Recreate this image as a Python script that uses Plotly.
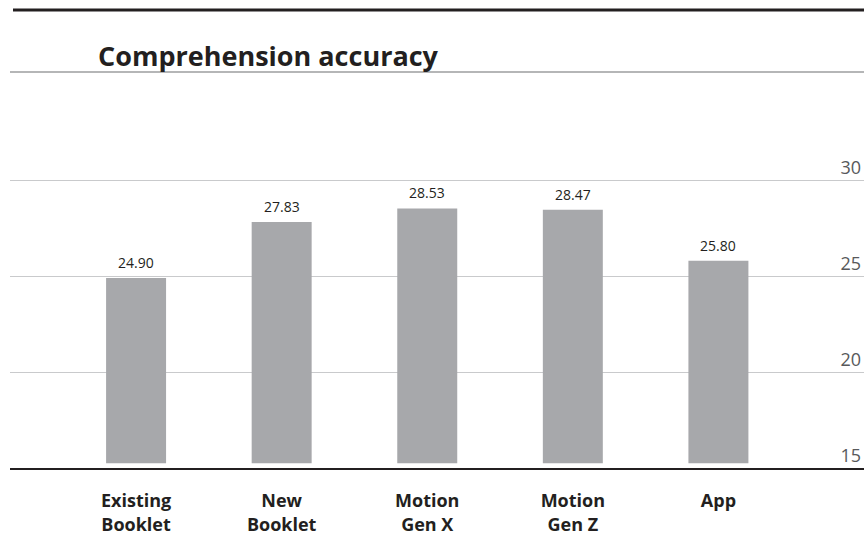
import plotly.graph_objects as go

categories = ["Existing<br>Booklet", "New<br>Booklet", "Motion<br>Gen X", "Motion<br>Gen Z", "App"]
values = [24.90, 27.83, 28.53, 28.47, 25.80]
value_labels = ["24.90", "27.83", "28.53", "28.47", "25.80"]
y_tickvals = [15, 20, 25, 30]
y_ticktext = ["15", "20", "25", "30"]
title_text = "Comprehension accuracy"

W, H = 864, 551
ML, MR, MT, MB = 10, 0, 100, 83
plot_h = H - MT - MB

def py(p):
    # pixel y -> paper y
    return (H - MB - p) / plot_h

FONT = "Open Sans"
DARK = "#231f20"

fig = go.Figure()
fig.add_trace(go.Bar(
    x=categories, y=[v - 15.25 for v in values], base=15.25,
    width=0.412, marker=dict(color="#a7a8ab", line=dict(width=0)),
    hoverinfo="skip", showlegend=False,
))

for c, v, t in zip(categories, values, value_labels):
    fig.add_annotation(x=c, y=v, text=t, showarrow=False, yanchor="bottom",
                       yshift=4, font=dict(family=FONT, size=14, color=DARK))

fig.add_annotation(xref="paper", yref="paper", x=(96 - ML) / (W - ML - MR), y=py(55),
                   xanchor="left", yanchor="middle", showarrow=False,
                   text="<b>" + title_text + "</b>",
                   font=dict(family=FONT, size=27, color=DARK))

fig.add_shape(type="line", xref="paper", yref="paper",
              x0=(13 - ML) / (W - ML - MR), x1=1, y0=py(10), y1=py(10),
              line=dict(color=DARK, width=3))
fig.add_shape(type="line", xref="paper", yref="paper",
              x0=0, x1=1, y0=py(72), y1=py(72),
              line=dict(color="#6d6e71", width=1.2))

fig.update_layout(
    width=W, height=H,
    margin=dict(l=ML, r=MR, t=MT, b=MB),
    paper_bgcolor="white", plot_bgcolor="white",
    bargap=0.6,
    xaxis=dict(
        type="category", range=[-0.866, 5.0],
        showgrid=False, showline=True, linecolor=DARK, linewidth=1.5,
        ticks="", ticklabelstandoff=16,
        tickfont=dict(family=FONT, size=18, color=DARK, weight="bold"),
        fixedrange=True,
    ),
    yaxis=dict(
        range=[15, 15 + plot_h / 19.18], side="right",
        tickvals=y_tickvals, ticktext=y_ticktext,
        ticklabelposition="inside top",
        showgrid=True, gridcolor="#c9cacc", gridwidth=1,
        zeroline=False, showline=False, ticks="",
        tickfont=dict(family=FONT, size=18, color="#58595b"),
        fixedrange=True,
    ),
    font=dict(family=FONT),
)

fig.write_html("out.html")
